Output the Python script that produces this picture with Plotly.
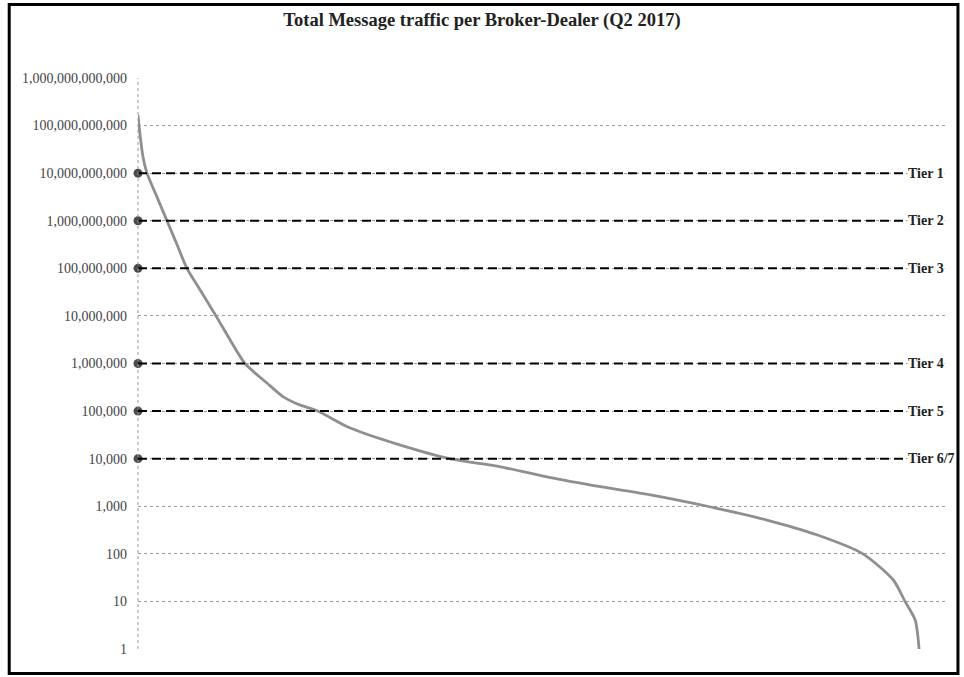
import math
import plotly.graph_objects as go

# Broker-dealer rank (scaled 0..1000) and total message traffic
rank = [0, 1.3, 6.4, 11.5, 24.3, 37.1, 49.9, 62.7, 79.4, 99.9, 117.8, 137, 165, 186, 207, 230,
        271, 335, 399, 464, 528, 592, 656, 729, 805, 869, 928, 967, 982, 995, 1000]
log_traffic = [11.22, 11.0, 10.34, 10.0, 9.5, 9.0, 8.5, 8.0, 7.55, 7.0, 6.5, 6.0, 5.59, 5.30, 5.13, 5.0,
               4.65, 4.29, 4.0, 3.83, 3.60, 3.41, 3.24, 3.0, 2.71, 2.40, 2.0, 1.45, 1.0, 0.61, 0.0]
traffic = [10 ** v for v in log_traffic]

tier_names = ["Tier 1", "Tier 2", "Tier 3", "Tier 4", "Tier 5", "Tier 6/7"]
tier_thresholds = [1e10, 1e9, 1e8, 1e6, 1e5, 1e4]

ytick_vals = [10 ** k for k in range(0, 13)]
ytick_text = [f"{v:,}" for v in ytick_vals]

tier_line_end = 982
tier_label_x = 984
x_max = 1037

SERIF = "Liberation Serif, Times New Roman, serif"

fig = go.Figure()

fig.add_trace(go.Scatter(
    x=rank, y=traffic, mode="lines",
    line=dict(color="#8f8f8f", width=2.8, shape="spline", smoothing=0.7),
    showlegend=False, hoverinfo="skip",
))

for name, thr in zip(tier_names, tier_thresholds):
    fig.add_trace(go.Scatter(
        x=[0, tier_line_end], y=[thr, thr], mode="lines+markers",
        line=dict(color="black", width=2, dash="9px,5px"),
        marker=dict(size=[9, 0], color="black", line=dict(width=0)),
        cliponaxis=False,
        showlegend=False, hoverinfo="skip",
    ))

annotations = []
for name, thr in zip(tier_names, tier_thresholds):
    annotations.append(dict(
        x=tier_label_x, y=math.log10(thr), xref="x", yref="y",
        text=f"<b>{name}</b>", showarrow=False, xanchor="left", yanchor="middle",
        bgcolor="white", borderpad=0,
        font=dict(family=SERIF, size=14, color="#222"),
    ))

fig.update_layout(
    width=964, height=677,
    margin=dict(l=138, r=16, t=78, b=28),
    paper_bgcolor="white", plot_bgcolor="white",
    title=dict(text="<b>Total Message traffic per Broker-Dealer (Q2 2017)</b>",
               x=0.5, xanchor="center", y=1 - 20 / 677, yanchor="middle",
               font=dict(family=SERIF, size=18.5, color="#222")),
    annotations=annotations,
    xaxis=dict(range=[0, x_max], showgrid=False, showticklabels=False, zeroline=False,
               showline=False, ticks=""),
    yaxis=dict(type="log", range=[0, 12], tickvals=ytick_vals, ticktext=ytick_text,
               showgrid=True, gridcolor="#9a9a9a", griddash="dot", gridwidth=1,
               zeroline=False, showline=False, ticks="", ticklabelstandoff=10,
               tickfont=dict(family=SERIF, size=14, color="#444")),
    shapes=[
        dict(type="line", xref="paper", yref="paper", x0=0, x1=0, y0=0, y1=1,
             line=dict(color="#9a9a9a", width=1, dash="dot")),
        dict(type="rect", xref="paper", yref="paper", x0=-0.159, x1=1.0123, y0=-0.0429, y1=1.1287,
             line=dict(color="black", width=3), fillcolor="rgba(0,0,0,0)", layer="above"),
    ],
)

fig.write_html("out.html", config={"displayModeBar": False},
               post_script="document.body.style.margin='0';document.body.style.overflow='hidden';")
